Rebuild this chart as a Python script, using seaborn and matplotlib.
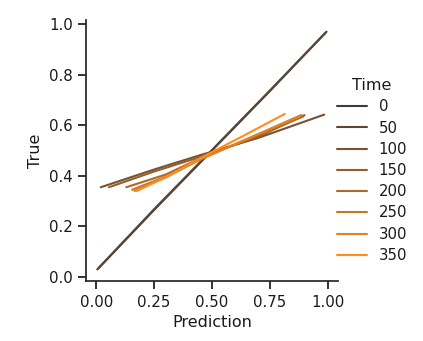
import numpy as np
import pandas as pd
import matplotlib
matplotlib.use("Agg")
import matplotlib.pyplot as plt
import seaborn as sns

# values
times = [0, 50, 100, 150, 200, 250, 300, 350]
pred = {
    0:   [0.005, 0.25, 0.50, 0.75, 0.995],
    50:  [0.010, 0.25, 0.50, 0.75, 0.990],
    100: [0.020, 0.25, 0.45, 0.70, 0.985],
    150: [0.055, 0.25, 0.45, 0.70, 0.900],
    200: [0.130, 0.30, 0.45, 0.70, 0.895],
    250: [0.155, 0.30, 0.45, 0.70, 0.885],
    300: [0.165, 0.30, 0.45, 0.65, 0.880],
    350: [0.175, 0.30, 0.45, 0.65, 0.815],
}
true = {
    0:   [0.030, 0.265, 0.500, 0.735, 0.970],
    50:  [0.035, 0.268, 0.502, 0.737, 0.965],
    100: [0.355, 0.425, 0.482, 0.550, 0.642],
    150: [0.355, 0.417, 0.475, 0.555, 0.640],
    200: [0.355, 0.405, 0.470, 0.560, 0.635],
    250: [0.345, 0.397, 0.465, 0.565, 0.640],
    300: [0.340, 0.393, 0.465, 0.545, 0.636],
    350: [0.340, 0.395, 0.470, 0.565, 0.645],
}

df = pd.DataFrame({
    "Time": np.repeat(times, [len(pred[t]) for t in times]),
    "Prediction": np.concatenate([pred[t] for t in times]),
    "True": np.concatenate([true[t] for t in times]),
})

sns.set_theme(style="ticks", rc={
    "xtick.labelsize": 10.8, "ytick.labelsize": 10.8, "axes.labelsize": 11.5,
    "legend.fontsize": 10.7, "legend.title_fontsize": 11.5,
    "text.color": "#1a1a1a", "axes.labelcolor": "#1a1a1a",
    "xtick.color": "#1a1a1a", "ytick.color": "#1a1a1a",
})
palette = sns.blend_palette(["#403b37", "#ff8c1f"], len(times))

fig, ax = plt.subplots(figsize=(4.23, 3.41), dpi=100)
sns.lineplot(data=df, x="Prediction", y="True", hue="Time", palette=palette,
             legend="full", sort=False, ax=ax)
sns.despine(ax=ax)
ax.set_xticks([0, 0.25, 0.5, 0.75, 1.0])
ax.set_yticks([0, 0.2, 0.4, 0.6, 0.8, 1.0])

# legend centred on the figure, like relplot
handles, labels = ax.get_legend_handles_labels()
ax.get_legend().remove()
fig.legend(handles, labels, title="Time", frameon=False, loc="center left",
           bbox_to_anchor=(0.765, 0.5), labelspacing=0.42)
fig.subplots_adjust(left=0.203, right=0.799, top=0.942, bottom=0.175)
fig.savefig("out.png", dpi=100)
